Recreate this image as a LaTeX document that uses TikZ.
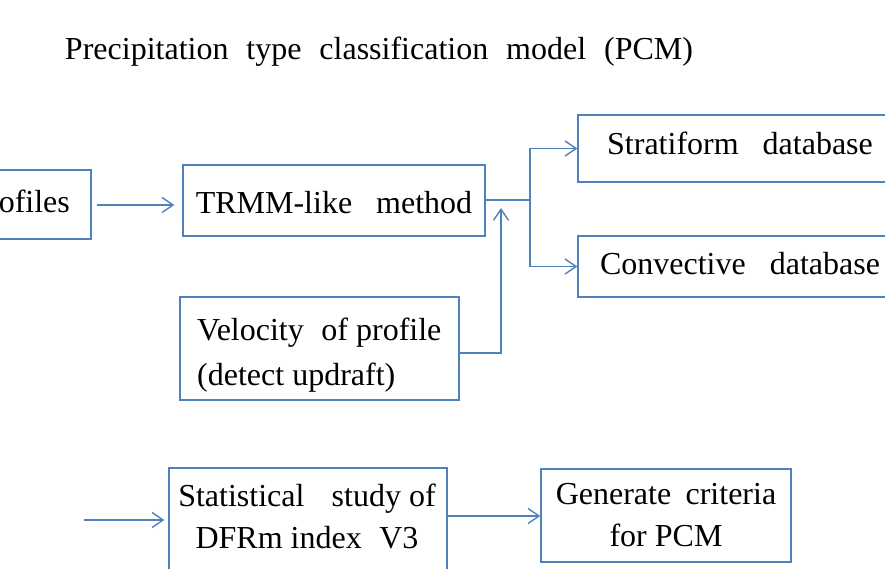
\documentclass[tikz,border=0pt]{standalone}
\usepackage{fontspec}
\setmainfont{Liberation Serif}
\usetikzlibrary{arrows.meta}
\definecolor{boxblue}{HTML}{4F81BD}
\newcommand{\wsp}{\hspace{0.75em}}
\begin{document}
\begin{tikzpicture}[x=1pt,y=-1pt,
  txt/.style={font=\fontsize{32}{42}\selectfont, inner sep=0pt, align=center},
  box/.style={draw=boxblue, line width=1.4pt, inner sep=0pt},
  link/.style={draw=boxblue, line width=1.4pt},
  arr/.style={link, -{Straight Barb[length=11pt,width=15pt,line width=1.4pt]}}]
\useasboundingbox (0,0) rectangle (885,568);
\clip (0,0) rectangle (885,568);

% heading
\node[txt] (title) at (379,52) {Precipitation\hspace{0.56em}type\hspace{0.56em}classification\hspace{0.56em}model\hspace{0.56em}(PCM)};

% boxes
\node[box, minimum width=130, minimum height=69] (prof) at (26,204.5) {};
\node[box, minimum width=302, minimum height=71] (trmm) at (334,200.5) {};
\node[box, minimum width=324, minimum height=67] (strat) at (740,148.5) {};
\node[box, minimum width=324, minimum height=61] (conv) at (740,266.5) {};
\node[box, minimum width=279, minimum height=103] (velo) at (319.5,348.5) {};
\node[box, minimum width=278, minimum height=104] (stat) at (308,520) {};
\node[box, minimum width=250, minimum height=93] (gen) at (666,515.5) {};

% box texts
\node[txt] (prof-t) at ([xshift=-5pt]prof.center) {profiles};
\node[txt] (trmm-t) at ([yshift=-2pt]trmm.center) {TRMM-like\wsp method};
\node[txt] (strat-t) at ([yshift=5pt]strat.center) {Stratiform\wsp database};
\node[txt] (conv-t) at ([yshift=3pt]conv.center) {Convective\wsp database};
\node[txt, anchor=west, align=left, font=\fontsize{32}{45}\selectfont] (velo-t) at (197,355.5)
  {Velocity\hspace{0.3em} of profile\\(detect updraft)};
\node[txt] (stat-t) at (307,516) {Statistical\hspace{0.6em} study of\\DFRm index\hspace{0.3em} V3};
\node[txt] (gen-t) at (gen.center) {Generate\hspace{0.2em} criteria\\for PCM};

% connectors
\coordinate (split) at (530,200);
\coordinate (updraft) at (501,208);
\coordinate (feed) at (84,520);

\draw[arr] ([xshift=5pt]prof.east |- 0,205) -- ([xshift=-8pt]trmm.west |- 0,205);
\draw[link] (trmm.east |- split) -- (split);
\draw[arr] (split) |- (strat.west);
\draw[arr] (split) |- (conv.west);
\draw[arr] (velo.east |- 0,353) -| (updraft);
\draw[arr] (feed) -- ([xshift=-4pt]stat.west |- feed);
\draw[arr] (stat.east |- 0,516) -- (gen.west |- 0,516);
\end{tikzpicture}
\end{document}
